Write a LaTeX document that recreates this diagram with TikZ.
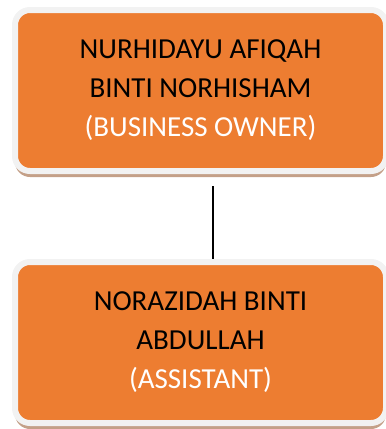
\documentclass[tikz,border=0pt]{standalone}
\usepackage{fontspec}
\setmainfont{Carlito}
\usetikzlibrary{shadows}
\definecolor{boxorange}{RGB}{237,125,49}
\definecolor{boxframe}{RGB}{242,242,242}
\definecolor{boxshadow}{RGB}{196,160,136}
\definecolor{boxblack}{RGB}{0,0,0}
\definecolor{boxwhite}{RGB}{255,255,255}
\tikzset{
  orgbox/.style={rectangle, rounded corners=15pt, fill=boxorange,
    draw=boxframe, line width=6pt, minimum width=371pt, minimum height=161pt,
    align=center, text=boxblack, font=\fontsize{29}{39}\selectfont,
    drop shadow={shadow xshift=0pt, shadow yshift=-6pt, fill=boxshadow, opacity=1}}
}
\begin{document}
\begin{tikzpicture}[x=1pt,y=-1pt]
    \useasboundingbox (0,0) rectangle (386,429);
    % Boxes
    \node[orgbox] (owner) at (200.5,90.5)
      {NURHIDAYU AFIQAH\\BINTI NORHISHAM\\{\color{boxwhite}(BUSINESS OWNER)}};
    \node[orgbox] (assistant) at (200.5,342.5)
      {NORAZIDAH BINTI\\ABDULLAH\\{\color{boxwhite}(ASSISTANT)}};
    % Connector
    \draw[boxblack, line width=1.2pt, shorten <=12pt]
      ([xshift=12.5pt]owner.south) -- ([xshift=12.5pt]assistant.north);
\end{tikzpicture}
\end{document}
